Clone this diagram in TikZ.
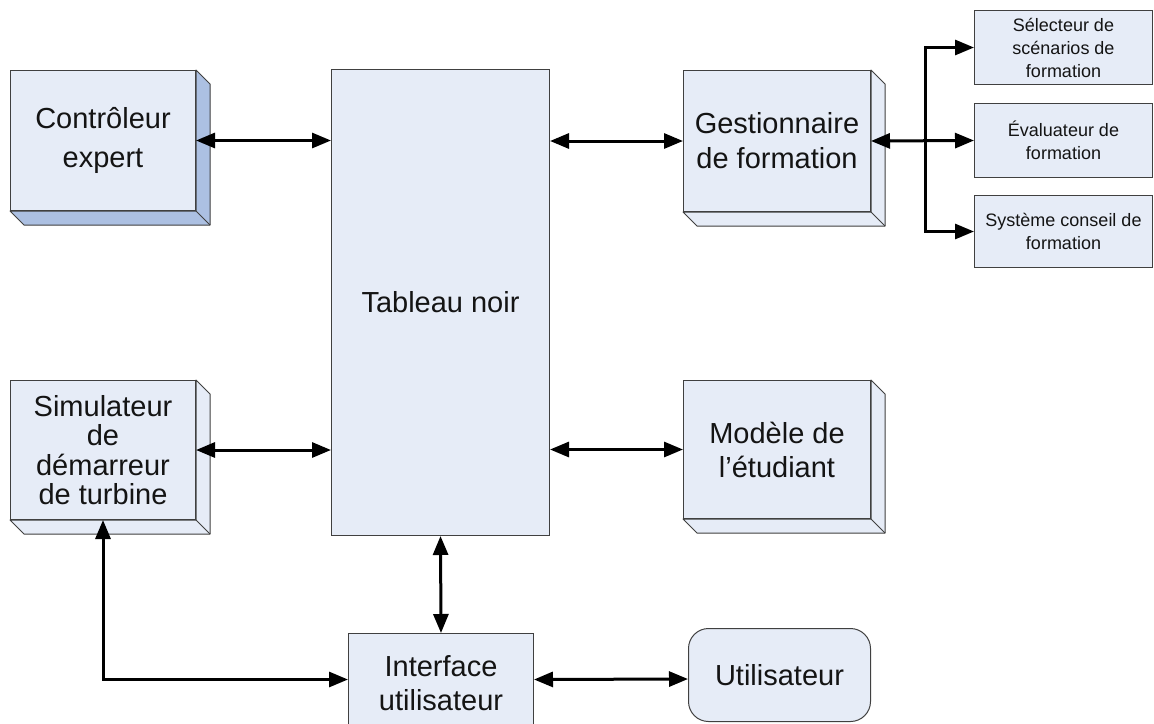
\documentclass[tikz,border=0pt]{standalone}
\usepackage{fontspec}
\setmainfont{Liberation Sans}
\usetikzlibrary{arrows.meta}
\definecolor{boxfill}{RGB}{230,236,247}
\definecolor{boxline}{RGB}{64,64,64}
\definecolor{deepfill}{RGB}{172,192,226}
\definecolor{txt}{RGB}{20,20,20}
\tikzset{
  box/.style={draw=boxline, fill=boxfill, line width=1pt, anchor=north west,
    inner sep=2pt, align=center, text=txt, font=\fontsize{29}{34}\selectfont},
  smallbox/.style={box, font=\fontsize{18}{23}\selectfont},
  tipA/.tip={Triangle[length=19pt,width=15pt]},
  conn/.style={line width=3pt, tipA-tipA},
  conn1/.style={line width=3pt, -tipA},
}
\newcommand\depthbox[2]{%
  \filldraw[fill=#2, draw=boxline, line width=1pt, line join=round]
   (#1.north east) -- ([shift={(14,14)}]#1.north east)
   -- ([shift={(14,14)}]#1.south east) -- ([shift={(14,14)}]#1.south west)
   -- (#1.south west) -- (#1.south east) -- cycle;
  \draw[boxline, line width=1pt] (#1.south east) -- ([shift={(14,14)}]#1.south east);
}
\begin{document}
\begin{tikzpicture}[x=1pt,y=-1pt]
\useasboundingbox (0,0) rectangle (1154,723);
\fill[white] (0,0) rectangle (1154,723);
\clip (0,0) rectangle (1154,723);

% main boxes
\node[box, minimum width=185, minimum height=140, font=\fontsize{29}{39}\selectfont] (ce) at (10,70) {Contrôleur\\expert};
\depthbox{ce}{deepfill}
\node[box, minimum width=218, minimum height=466] (tn) at (331,69) {Tableau noir};
\node[box, minimum width=187, minimum height=141, font=\fontsize{29}{35}\selectfont] (ge) at (683,70) {Gestionnaire\\de formation};
\depthbox{ge}{boxfill}
\node[box, minimum width=185, minimum height=139, font=\fontsize{29}{29.5}\selectfont] (si) at (10,380) {Simulateur\\de\\démarreur\\de turbine};
\depthbox{si}{boxfill}
\node[box, minimum width=187, minimum height=138] (mo) at (683,380) {Modèle de\\l’étudiant};
\depthbox{mo}{boxfill}
\node[box, minimum width=185, minimum height=100] (ui) at (348,633) {Interface\\utilisateur};
\node[box, rounded corners=20pt, minimum width=182, minimum height=93] (ut) at (688,628) {Utilisateur};

% small boxes
\node[smallbox, minimum width=178, minimum height=74] (se) at (974,10) {Sélecteur de\\scénarios de\\formation};
\node[smallbox, minimum width=178, minimum height=74] (ev) at (974,103) {Évaluateur de\\formation};
\node[smallbox, minimum width=178, minimum height=72] (sy) at (974,195) {Système conseil de\\formation};

% connectors
\draw[conn] (ce.east) -- (tn.west |- ce.east);
\draw[conn] (tn.east |- ge.west) -- (ge.west);
\draw[conn] (si.east) -- (tn.west |- si.east);
\draw[conn] (tn.east |- mo.west) -- (mo.west);
\draw[conn] (tn.south) -- (ui.north);
\draw[conn] (si.south) |- ([yshift=4pt]ui.west);
\draw[conn] ([yshift=4pt]ui.east) -- ([yshift=-4pt]ut.west);
\draw[conn] (ge.east) -- (ev.west);
\coordinate (j) at (925,140);
\draw[conn1] (j) |- (se.west);
\draw[conn1] (j) |- (sy.west);
\end{tikzpicture}
\end{document}
